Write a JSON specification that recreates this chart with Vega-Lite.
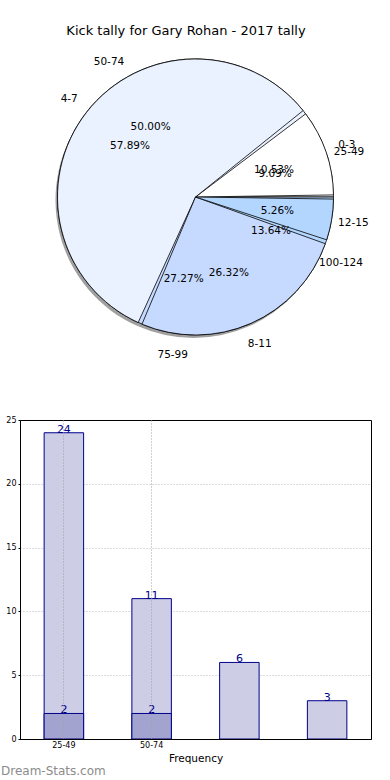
{
  "$schema": "https://vega.github.io/schema/vega-lite/v6.json",
  "padding": {"left": 0, "top": 25, "right": 0, "bottom": 0},
  "bounds": "flush",
  "spacing": 80,
  "title": {"text": "Kick tally for Gary Rohan - 2017 tally", "fontSize": 13, "fontWeight": "normal", "font": "DejaVu Sans", "color": "#000000", "offset": 16, "anchor": "middle"},
  "config": {
    "font": "DejaVu Sans",
    "view": {"stroke": null}
  },
  "datasets": {
    "s1": [
      {"range": "0-3", "frac": 0.1053, "ord": 1},
      {"range": "4-7", "frac": 0.5789, "ord": 2},
      {"range": "8-11", "frac": 0.2632, "ord": 3},
      {"range": "12-15", "frac": 0.0526, "ord": 4}
    ],
    "s2": [
      {"range": "25-49", "frac": 0.0909, "ord": 1},
      {"range": "50-74", "frac": 0.5, "ord": 2},
      {"range": "75-99", "frac": 0.2727, "ord": 3},
      {"range": "100-124", "frac": 0.1364, "ord": 4}
    ],
    "bars": [
      {"range": "25-49", "count": 24},
      {"range": "50-74", "count": 11},
      {"range": "75-99", "count": 6},
      {"range": "100-124", "count": 3}
    ],
    "sub": [
      {"range": "25-49", "count": 2},
      {"range": "50-74", "count": 2}
    ]
  },
  "vconcat": [
    {
      "width": 351,
      "height": 286,
      "view": {"stroke": null},
      "encoding": {
        "theta": {"field": "frac", "type": "quantitative", "stack": true, "scale": {"domain": [0, 1], "range": [1.5708, -4.7124]}},
        "order": {"field": "ord", "type": "quantitative"}
      },
      "layer": [
        {
          "data": {"name": "s1"},
          "mark": {"type": "arc", "radius": 138, "fill": "#777777", "opacity": 0.7, "xOffset": -2, "yOffset": 3}
        },
        {
          "data": {"name": "s2"},
          "mark": {"type": "arc", "radius": 138, "stroke": "#000000", "strokeWidth": 0.8},
          "encoding": {
            "color": {"field": "range", "type": "nominal", "legend": null,
              "scale": {"domain": ["0-3", "4-7", "8-11", "12-15", "25-49", "50-74", "75-99", "100-124"],
                        "range": ["#ffffff", "#eaf2ff", "#c6daff", "#b3d6ff", "#ffffff", "#eaf2ff", "#c6daff", "#b3d6ff"]}}
          }
        },
        {
          "data": {"name": "s1"},
          "mark": {"type": "arc", "radius": 138, "stroke": "#000000", "strokeWidth": 0.8, "padAngle": 0.03},
          "encoding": {
            "color": {"field": "range", "type": "nominal", "legend": null}
          }
        },
        {
          "data": {"name": "s1"},
          "mark": {"type": "text", "radius": 83, "fontSize": 10.5, "color": "#000000"},
          "encoding": {"text": {"field": "frac", "type": "quantitative", "format": ".2%"}}
        },
        {
          "data": {"name": "s2"},
          "mark": {"type": "text", "radius": 83, "fontSize": 10.5, "color": "#000000"},
          "encoding": {"text": {"field": "frac", "type": "quantitative", "format": ".2%"}}
        },
        {
          "data": {"name": "s1"},
          "mark": {"type": "text", "radius": 160, "fontSize": 10.5, "color": "#000000"},
          "encoding": {"text": {"field": "range", "type": "nominal"}}
        },
        {
          "data": {"name": "s2"},
          "mark": {"type": "text", "radius": 160, "fontSize": 10.5, "color": "#000000"},
          "encoding": {"text": {"field": "range", "type": "nominal"}}
        }
      ]
    },
    {
      "width": 351,
      "height": 319,
      "view": {"stroke": "#000000", "strokeWidth": 1},
      "title": {"text": "Dream-Stats.com", "orient": "bottom", "anchor": "start", "frame": "group", "dx": -19, "offset": 2, "fontSize": 12, "fontWeight": "normal", "color": "#8c8c8c", "font": "DejaVu Sans"},
      "encoding": {
        "x": {"field": "range", "type": "nominal", "sort": ["25-49", "50-74", "75-99", "100-124"],
          "scale": {"paddingInner": 0, "paddingOuter": 0},
          "axis": {"values": ["25-49", "50-74"], "title": "Frequency", "titleFontSize": 10.5, "titleFontWeight": "normal", "titleColor": "#000000", "titlePadding": 4,
                   "labelAngle": 0, "labelFontSize": 8, "labelColor": "#000000", "labelPadding": 2, "tickSize": 0, "domainColor": "#000000",
                   "grid": true, "gridDash": [1, 2], "gridColor": "#a0a0a0", "bandPosition": 0.5, "zindex": 1}},
        "y": {"field": "count", "type": "quantitative", "scale": {"domain": [0, 25]},
          "axis": {"values": [0, 5, 10, 15, 20, 25], "title": null, "labelFontSize": 8, "labelColor": "#000000", "labelPadding": 2, "tickSize": 2, "tickColor": "#000000",
                   "domainColor": "#000000", "grid": true, "gridDash": [1, 2], "gridColor": "#b8b8b8",
                   "gridOpacity": {"condition": {"test": "datum.value == 25 || datum.value == 0", "value": 0}, "value": 1}}}
      },
      "layer": [
        {
          "data": {"name": "bars"},
          "mark": {"type": "bar", "width": {"band": 0.45}, "fill": "#cdcde6", "stroke": "#00008b", "strokeWidth": 1}
        },
        {
          "data": {"name": "sub"},
          "mark": {"type": "bar", "width": {"band": 0.45}, "fill": "#a3a3cf", "stroke": "#00008b", "strokeWidth": 1}
        },
        {
          "data": {"name": "bars"},
          "mark": {"type": "text", "baseline": "alphabetic", "dy": 0, "fontSize": 11, "color": "#00008b"},
          "encoding": {"text": {"field": "count", "type": "quantitative"}}
        },
        {
          "data": {"name": "sub"},
          "mark": {"type": "text", "baseline": "alphabetic", "dy": 0, "fontSize": 11, "color": "#00008b"},
          "encoding": {"text": {"field": "count", "type": "quantitative"}}
        }
      ]
    }
  ]
}
